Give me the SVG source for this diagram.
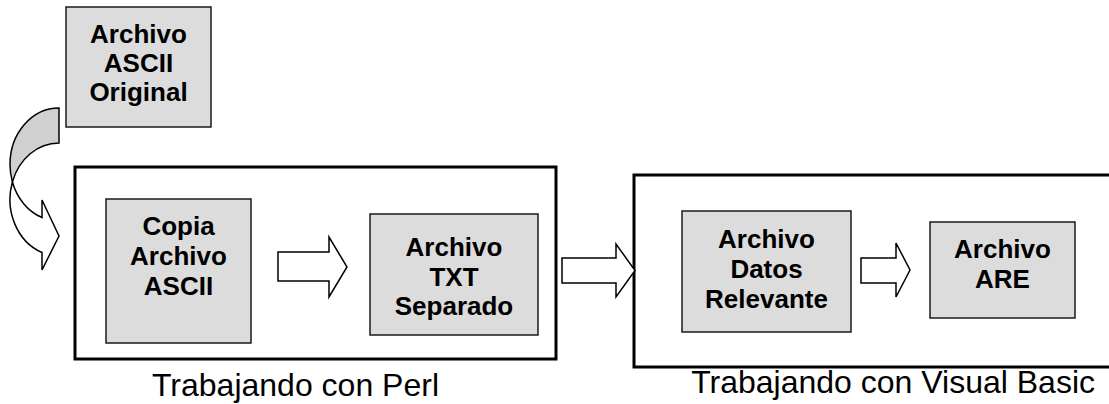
<svg xmlns="http://www.w3.org/2000/svg" width="1109" height="404" viewBox="0 0 1109 404">
  <style>
    .box { fill: #dcdcdc; stroke: #1a1a1a; stroke-width: 1.5; }
    .nt { font-family: "Liberation Sans", Arial, sans-serif; font-weight: bold; font-size: 26px; text-anchor: middle; fill: #000; }
    .frame { fill: none; stroke: #000; stroke-width: 3; }
    .lbl { font-family: "Liberation Sans", Arial, sans-serif; font-size: 32px; fill: #000; }
    .block { fill: #fff; stroke: #000; stroke-width: 1.5; stroke-linejoin: miter; }
    .back { fill: #d0d0d0; stroke: #000; stroke-width: 1.5; }
  </style>
  <rect width="1109" height="404" fill="#fff"/>

  <!-- processing stages -->
  <g id="stage-perl">
    <rect class="frame" x="75" y="167" width="481" height="192"/>
    <text class="lbl" x="152" y="396">Trabajando con Perl</text>
  </g>
  <g id="stage-vb">
    <rect class="frame" x="634" y="175" width="490" height="192"/>
    <text class="lbl" x="1095" y="393" text-anchor="end">Trabajando con Visual Basic</text>
  </g>

  <!-- files -->
  <g id="node-ascii-original">
    <rect class="box" x="66" y="7" width="145" height="120"/>
    <text class="nt" x="138.5" y="43">Archivo</text>
    <text class="nt" x="138.5" y="72">ASCII</text>
    <text class="nt" x="138.5" y="101">Original</text>
  </g>
  <g id="node-copia">
    <rect class="box" x="106" y="199" width="145" height="144"/>
    <text class="nt" x="178.5" y="235">Copia</text>
    <text class="nt" x="178.5" y="265">Archivo</text>
    <text class="nt" x="178.5" y="295">ASCII</text>
  </g>
  <g id="node-txt">
    <rect class="box" x="370" y="214" width="168" height="121"/>
    <text class="nt" x="454" y="256">Archivo</text>
    <text class="nt" x="454" y="285.5">TXT</text>
    <text class="nt" x="454" y="315">Separado</text>
  </g>
  <g id="node-datos">
    <rect class="box" x="682" y="211" width="169" height="121"/>
    <text class="nt" x="766.5" y="248">Archivo</text>
    <text class="nt" x="766.5" y="278">Datos</text>
    <text class="nt" x="766.5" y="308">Relevante</text>
  </g>
  <g id="node-are">
    <rect class="box" x="930" y="222" width="145" height="96"/>
    <text class="nt" x="1002.5" y="258">Archivo</text>
    <text class="nt" x="1002.5" y="288">ARE</text>
  </g>

  <!-- connectors -->
  <g id="connectors">
    <!-- curved arrow: shaded back band, then the front band with its head -->
    <path class="back" d="M59,108 A49,56.5 0 0 0 10,164.5 A49,56.5 0 0 0 12.4,182 A49,56.5 0 0 1 59,143 Z"/>
    <path class="block" d="M12.4,182 A49,56.5 0 0 0 42,217.5 L42,200 L59,236 L42,270 L42,252.5 A49,56.5 0 0 1 12.4,182 Z"/>
    <!-- block arrows -->
    <polygon class="block" points="278,252 329,252 329,237 347,267 329,297 329,281 278,281"/>
    <polygon class="block" points="562,258 616,258 616,244 635,270.5 616,297 616,283 562,283"/>
    <polygon class="block" points="861,258 896,258 896,243 910,270 896,297 896,283 861,283"/>
  </g>
</svg>
